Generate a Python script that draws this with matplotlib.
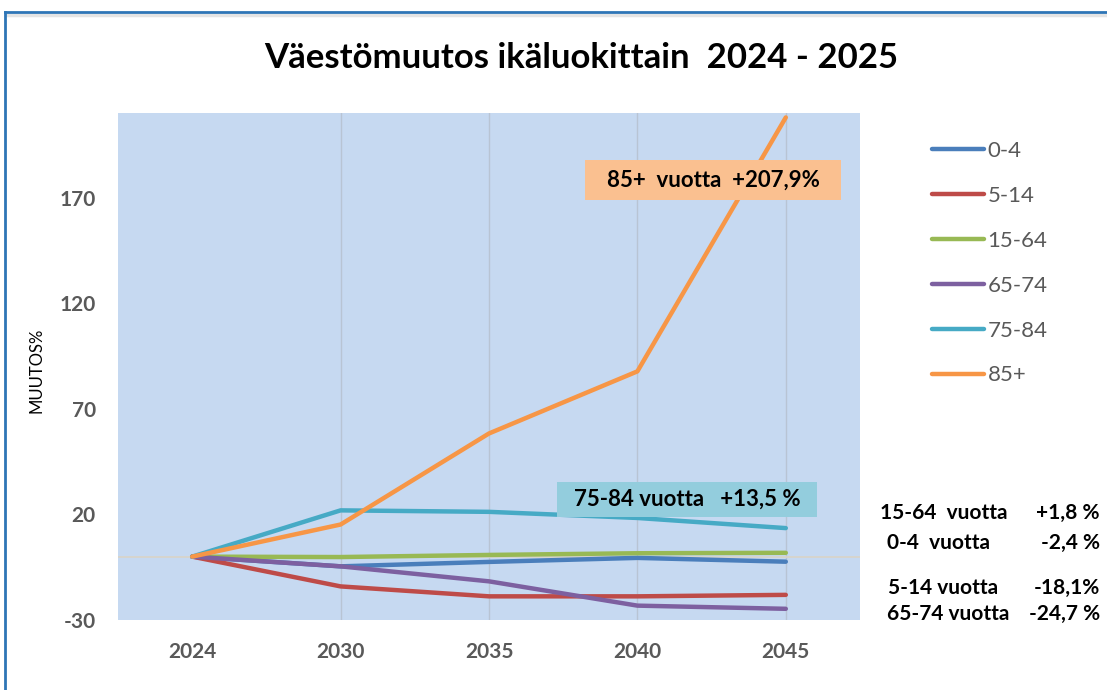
import matplotlib.pyplot as plt
from matplotlib.lines import Line2D
from matplotlib.patches import Rectangle

years = ["2024", "2030", "2035", "2040", "2045"]
groups = ["0-4", "5-14", "15-64", "65-74", "75-84", "85+"]
v_0_4 = [0, -4.6, -2.5, -0.6, -2.4]
v_5_14 = [0, -14.1, -18.8, -18.8, -18.1]
v_15_64 = [0, -0.2, 0.8, 1.6, 1.8]
v_65_74 = [0, -4.6, -11.7, -23.2, -24.7]
v_75_84 = [0, 21.9, 21.2, 18.3, 13.5]
v_85 = [0, 15.2, 58.3, 87.7, 207.9]
series = [v_0_4, v_5_14, v_15_64, v_65_74, v_75_84, v_85]
colors = ["#4A7EBB", "#BE4B48", "#98B954", "#7D60A0", "#46AAC5", "#F79646"]

side_labels = ["15-64  vuotta", "0-4  vuotta", "5-14 vuotta", "65-74 vuotta"]
side_values = ["+1,8 %", "-2,4 %", "-18,1%", "-24,7 %"]

plt.rcParams["font.family"] = ["Lato", "DejaVu Sans"]
plt.rcParams["axes.unicode_minus"] = False

W, H = 1107, 690
fig = plt.figure(figsize=(W / 100, H / 100), dpi=100)
ax = fig.add_axes([118 / W, 70 / H, 742 / W, 507 / H])
ax.set_facecolor("#C6D9F1")

x = list(range(len(years)))
for i in x[1:]:
    ax.axvline(i, color="#B8C4D4", lw=1, zorder=1)
ax.axhline(0, color="#D9D4C8", lw=1.2, zorder=1)

for name, vals, c in zip(groups, series, colors):
    ax.plot(x, vals, color=c, lw=3.2, label=name, solid_capstyle="round", zorder=3)

ax.set_xlim(-0.5, 4.5)
ax.set_ylim(-30, 210)
ax.set_xticks(x)
ax.set_xticklabels(years)
ax.set_yticks([-30, 20, 70, 120, 170])
ax.tick_params(length=0, labelsize=15, colors="#595959")
ax.tick_params(axis="x", pad=16)
ax.tick_params(axis="y", pad=16)
for t in ax.get_xticklabels() + ax.get_yticklabels():
    t.set_fontweight("bold")
for s in ax.spines.values():
    s.set_visible(False)

fig.text(36 / W, 1 - 370 / H, "MUUTOS%", fontsize=12, rotation=90,
         ha="center", va="center")

# annotation boxes (pixel positions from the reference)
def label_box(x0, y0, x1, y1, color, text):
    fig.add_artist(Rectangle((x0 / W, 1 - y1 / H), (x1 - x0) / W, (y1 - y0) / H,
                             transform=fig.transFigure, fc=color, ec="none", zorder=4))
    fig.text((x0 + x1) / 2 / W, 1 - (y0 + y1) / 2 / H, text, fontsize=16,
             fontweight="bold", ha="center", va="center", zorder=5)

label_box(585, 160, 841, 200, "#FAC090", "85+  vuotta  +207,9%")
label_box(557, 482, 817, 517, "#93CDDD", "75-84 vuotta   +13,5 %")

ax.legend(loc="upper left", bbox_to_anchor=(932 / W, 1 - 141 / H),
          bbox_transform=fig.transFigure, frameon=False, borderaxespad=0,
          fontsize=16, handlelength=2.35, handletextpad=0.15,
          labelspacing=1.12, labelcolor="#595959", borderpad=0)

ys = [513, 543, 588, 614]
lx = [880, 887, 888, 887]
for yy, xx, lab, val in zip(ys, lx, side_labels, side_values):
    fig.text(xx / W, 1 - yy / H, lab, fontsize=15, fontweight="bold", va="center")
    fig.text(1100 / W, 1 - yy / H, val, fontsize=15, fontweight="bold",
             va="center", ha="right")

fig.text(581 / W, 1 - 58 / H, "Väestömuutos ikäluokittain  2024 - 2025",
         fontsize=25, fontweight="bold", ha="center", va="center")

# chart frame
fig.add_artist(Line2D([6 / W, 1], [1 - 15 / H, 1 - 15 / H], color="#E4E4E4", lw=2.5))
fig.add_artist(Line2D([5 / W, 1], [1 - 12 / H, 1 - 12 / H], color="#2E75B6", lw=2))
fig.add_artist(Line2D([5 / W, 5 / W], [0, 1 - 12 / H], color="#2E75B6", lw=2))

fig.savefig("out.png", dpi=100)
